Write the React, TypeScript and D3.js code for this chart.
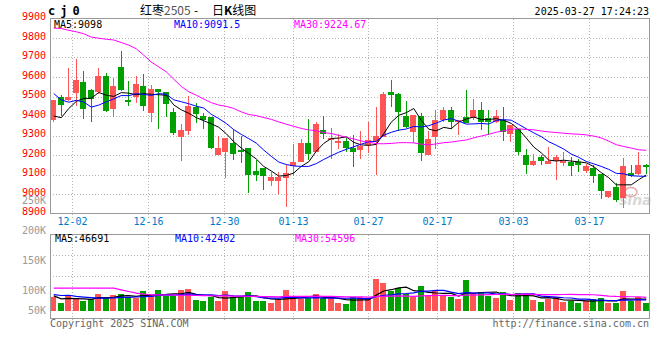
import React from 'react';
import * as d3 from 'd3';

// ---------- data ----------
const dates = [
  '11-27','11-28','11-29','12-02','12-03','12-04','12-05','12-06','12-09','12-10',
  '12-11','12-12','12-13','12-16','12-17','12-18','12-19','12-20','12-23','12-24',
  '12-25','12-26','12-27','12-30','12-31','01-02','01-03','01-06','01-07','01-08',
  '01-09','01-10','01-13','01-14','01-15','01-16','01-17','01-20','01-21','01-22',
  '01-23','01-24','01-27','02-05','02-06','02-07','02-10','02-11','02-12','02-13',
  '02-14','02-17','02-18','02-19','02-20','02-21','02-24','02-25','02-26','02-27',
  '02-28','03-03','03-04','03-05','03-06','03-07','03-10','03-11','03-12','03-13',
  '03-14','03-17','03-18','03-19','03-20','03-21','03-24','03-25','03-26','03-27',
];
const open = [
  9380,9495,9481,9519,9574,9533,9524,9604,9435,9652,
  9481,9498,9553,9416,9541,9521,9421,9293,9324,9447,
  9399,9396,9199,9216,9259,9228,9237,9117,9134,9068,
  9068,9080,9143,9165,9264,9216,9327,9276,9262,9271,
  9238,9225,9250,9268,9293,9524,9512,9399,9319,9399,
  9199,9293,9382,9433,9370,9396,9391,9430,9391,9370,
  9379,9310,9331,9199,9148,9191,9153,9170,9160,9165,
  9165,9119,9131,9102,8986,9037,8982,9110,9102,9151,
];
const high = [
  9482,9507,9647,9691,9630,9538,9647,9621,9596,9732,
  9580,9604,9615,9558,9541,9524,9442,9358,9502,9468,
  9416,9396,9298,9285,9327,9298,9237,9174,9134,9114,
  9114,9148,9254,9280,9384,9367,9399,9336,9310,9293,
  9302,9322,9370,9444,9524,9584,9519,9478,9404,9416,
  9324,9430,9447,9447,9382,9533,9485,9473,9430,9430,
  9447,9353,9331,9230,9204,9199,9242,9199,9216,9191,
  9182,9156,9148,9102,9015,9054,9186,9148,9213,9156,
];
const low = [
  9368,9399,9478,9452,9384,9370,9512,9421,9396,9530,
  9452,9468,9427,9370,9333,9396,9302,9170,9302,9365,
  9333,9230,9199,9080,9174,9160,9006,9068,9020,9042,
  8998,8934,9092,9165,9174,9216,9280,9182,9233,9213,
  9140,9182,9208,9097,9293,9447,9324,9341,9262,9170,
  9199,9233,9370,9331,9305,9362,9379,9327,9302,9362,
  9273,9268,9199,9105,9143,9148,9153,9073,9143,9092,
  9114,9110,9054,8972,8977,8960,8926,9085,9097,9105,
];
const close = [
  9480,9456,9495,9584,9435,9485,9604,9425,9553,9533,
  9471,9563,9452,9538,9521,9459,9314,9327,9450,9408,
  9379,9237,9237,9285,9204,9216,9097,9097,9093,9088,
  9085,9110,9162,9264,9204,9358,9310,9288,9273,9237,
  9216,9245,9276,9298,9512,9510,9421,9345,9404,9211,
  9281,9379,9433,9370,9379,9362,9430,9370,9370,9399,
  9319,9353,9216,9148,9168,9170,9168,9191,9170,9145,
  9151,9143,9093,9016,9015,8968,9143,9093,9148,9136,
];
const volume = [
  49300,36400,54800,46900,41200,44500,57100,50700,54800,57100,
  49300,46900,64300,52400,66700,52400,52400,66700,69000,42900,
  41200,49300,41200,64300,49300,49300,61900,41200,41200,36400,
  42900,66700,47600,46400,48300,57100,47100,47600,35700,33300,
  50000,50000,47600,92900,83300,65000,71400,57100,50000,76900,
  51700,63600,51700,50000,45200,91200,57100,61900,53100,47600,
  61900,43600,59500,57100,43600,38100,46000,50000,38100,41200,
  35700,41200,45200,47600,35700,35700,65000,41200,49300,35700,
];
// sessions before the visible window (only feed the moving averages)
const priorCloses = [
  9526,9775,9804,9745,9995,9784,9575,9673,9923,9861,
  10133,10442,10588,10271,10209,10454,10437,10260,9948,9979,
  9777,9617,9485,9524,9746,9500,9260,9400,9360,
];
const priorVolumes = [
  36400,54800,46900,41200,44500,57100,50700,54800,177100,166300,
  166900,133300,100400,75300,61000,61000,75300,77600,51500,49800,
  57900,49800,72900,57900,57900,70500,49800,49800,45000,
];
const priceTicks = [8900, 9000, 9100, 9200, 9300, 9400, 9500, 9600, 9700, 9800, 9900];
const volumeTicks = [250000, 200000, 150000, 100000, 50000];
const volumeGrid = [100000, 150000];
const dateTicks = ['12-02', '12-16', '12-30', '01-13', '01-27', '02-17', '03-03', '03-17'];
const maPeriods = [5, 10, 30];
const maColors = ['#000000', '#0000ff', '#ff00ff'];
const priceLegend = ['MA5:9098', 'MA10:9091.5', 'MA30:9224.67'];
const volumeLegend = ['MA5:46691', 'MA10:42402', 'MA30:54596'];

// ---------- layout ----------
const W = 660, H = 360;
const L = 50, R = 650;
const pTop = 18.5, pBot = 213.5;
const vTop = 234.5, vBot = 318;
const MONO = "'DejaVu Sans Mono', 'Liberation Mono', monospace";
const CJK = "'Noto Sans CJK SC', sans-serif";
const UP = '#ff5555';
const DOWN = '#00a000';
const GRID = '#b4b4b4';
const FRAME = '#999999';

function movingAvg(all: number[], offset: number, n: number, count: number) {
  const out: number[] = [];
  for (let i = 0; i < count; i++) {
    const end = i + offset;
    out.push(d3.mean(all.slice(end - n + 1, end + 1)) as number);
  }
  return out;
}

export default function App() {
  const N = dates.length;
  const x = d3.scaleLinear().domain([0, N]).range([L, R]);
  const xg = d3.scaleLinear().domain([0, N - 1]).range([L, R]);
  const y = d3.scaleLinear().domain([8900, 9900]).range([pBot, pTop]);
  const yv = d3.scaleLinear().domain([0, 200000]).range([vBot, vTop]);
  const yvLabel = d3.scaleLinear().domain([50000, 250000]).range([324, 204]);
  const fmtK = (v: number) => `${v / 1000}K`;

  const allC = priorCloses.concat(close);
  const allV = priorVolumes.concat(volume);
  const off = priorCloses.length;
  const priceMA = maPeriods.map((n) => movingAvg(allC, off, n, N));
  const volMA = maPeriods.map((n) => movingAvg(allV, priorVolumes.length, n, N));
  const cx = (i: number) => x(i) + (x(1) - x(0)) / 2;
  const pLine = d3.line<number>().x((_, i) => cx(i)).y((d) => y(d));
  const vLine = d3.line<number>().x((_, i) => cx(i)).y((d) => yv(d));

  const gridX = dateTicks.map((t) => Math.floor(xg(dates.indexOf(t))) + 0.5);

  return (
    <svg width={W} height={H} style={{ position: 'absolute', left: 0, top: 0, background: '#fff' }}
      fontFamily={MONO}>
      <rect x={0} y={0} width={W} height={H} fill="#fff" />
      {/* header */}
      <text x={48} y={15} fontSize={12} fontWeight="bold" letterSpacing={5} fill="#000">cj0</text>
      <text x={140} y={15} fontSize={12} fontFamily={CJK} fill="#000">
        红枣<tspan fill="#555">2505</tspan>
      </text>
      <text x={194} y={15} fontSize={12} fontFamily={CJK} fill="#000">-</text>
      <text x={212} y={15} fontSize={12} fontFamily={CJK} fill="#000">
        日<tspan fontWeight="bold">K</tspan>线图
      </text>
      <text x={649} y={15} fontSize={10} textAnchor="end" fill="#000">2025-03-27 17:24:23</text>

      {/* watermark */}
      <g opacity={0.55}>
        <ellipse cx={631} cy={192} rx={6} ry={4.5} fill="none" stroke="#d06060" strokeWidth={1.5} />
        <text x={619} y={205} fontSize={14} fontStyle="italic" fontWeight="bold"
          fontFamily="'DejaVu Sans', sans-serif" fill="#bbbbbb">sina</text>
      </g>

      {/* price grid */}
      {priceTicks.filter((t) => t > 8900 && t < 9900).map((t) => (
        <line key={t} x1={L} x2={R} y1={Math.round(y(t)) + 0.5} y2={Math.round(y(t)) + 0.5}
          stroke={GRID} strokeDasharray="1,2" shapeRendering="crispEdges" />
      ))}
      {gridX.map((gx, k) => (
        <g key={k}>
          <line x1={gx} x2={gx} y1={pTop} y2={pBot + 4} stroke={GRID} strokeDasharray="1,2" shapeRendering="crispEdges" />
          <line x1={gx} x2={gx} y1={vTop} y2={vBot + 4} stroke={GRID} strokeDasharray="1,2" shapeRendering="crispEdges" />
        </g>
      ))}
      {volumeGrid.map((t) => (
        <line key={t} x1={L} x2={R} y1={Math.round(yv(t)) + 0.5} y2={Math.round(yv(t)) + 0.5}
          stroke={GRID} strokeDasharray="1,2" shapeRendering="crispEdges" />
      ))}

      {/* price labels */}
      {priceTicks.map((t) => (
        <text key={t} x={46} y={y(t) + 1.8} fontSize={10} textAnchor="end" fill="#ff0000">{t}</text>
      ))}
      {/* volume labels */}
      {volumeTicks.map((t) => (
        <text key={t} x={46} y={Math.min(314, yvLabel(t))} fontSize={10} textAnchor="end" fill="#999999">{fmtK(t)}</text>
      ))}
      {/* date labels */}
      {dateTicks.map((t, k) => (
        <text key={t} x={gridX[k]} y={225} fontSize={10} textAnchor="middle" fill="#0078c8">{t}</text>
      ))}

      {/* candles */}
      {close.map((c, i) => {
        const o = open[i];
        const up = c >= o;
        const col = up ? UP : DOWN;
        const bx = Math.round(x(i));
        const top = Math.round(y(Math.max(o, c)));
        const bot = Math.round(y(Math.min(o, c)));
        const hy = Math.round(y(high[i]));
        const ly = Math.round(y(low[i]));
        return (
          <g key={i} shapeRendering="crispEdges">
            <rect x={bx + 3} y={hy} width={1} height={Math.max(1, ly - hy)} fill={col} />
            <rect x={bx} y={top} width={6} height={Math.max(1, bot - top)} fill={col} />
          </g>
        );
      })}
      {priceMA.map((m, k) => (
        <path key={k} d={pLine(m) as string} fill="none" stroke={maColors[k]} strokeWidth={1} />
      ))}

      {/* volume bars */}
      {volume.map((v, i) => {
        const col = close[i] >= open[i] ? UP : DOWN;
        const bx = Math.round(x(i));
        const top = Math.round(yv(v));
        const base = Math.round(vBot) - 7;
        return <rect key={i} x={bx} y={top} width={6} height={Math.max(1, base - top)} fill={col} shapeRendering="crispEdges" />;
      })}
      {volMA.map((m, k) => (
        <path key={k} d={vLine(m) as string} fill="none" stroke={maColors[k]} strokeWidth={1.2} />
      ))}

      {/* frames */}
      <rect x={L + 0.5} y={pTop} width={R - L - 1} height={pBot - pTop} fill="none" stroke={FRAME} strokeWidth={1} shapeRendering="crispEdges" />
      <rect x={L + 0.5} y={vTop} width={R - L - 1} height={vBot - vTop} fill="none" stroke={FRAME} strokeWidth={1} shapeRendering="crispEdges" />

      {/* legends */}
      {priceLegend.map((s, k) => (
        <text key={s} x={54 + k * 120} y={27.5} fontSize={10} fill={maColors[k]}>{s}</text>
      ))}
      {volumeLegend.map((s, k) => (
        <text key={s} x={55 + k * 120} y={242} fontSize={10} fill={maColors[k]}>{s}</text>
      ))}

      {/* footer */}
      <text x={50} y={327} fontSize={10} fill="#666666">Copyright 2025 SINA.COM</text>
      <text x={649} y={327} fontSize={10} textAnchor="end" fill="#666666">http://finance.sina.com.cn</text>
    </svg>
  );
}
